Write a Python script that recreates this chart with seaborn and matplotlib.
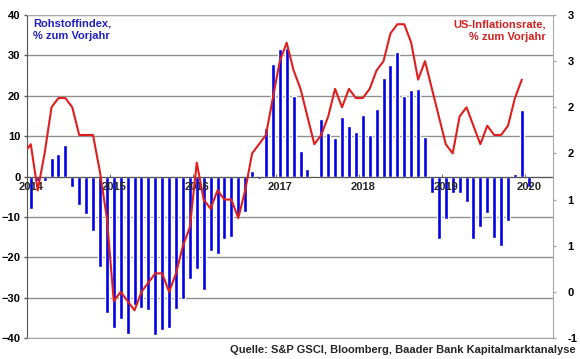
import numpy as np
import pandas as pd
import matplotlib
matplotlib.use('Agg')
from matplotlib import pyplot as plt
from matplotlib.ticker import FuncFormatter
import seaborn as sns

# Rohstoffindex (S&P GSCI), % zum Vorjahr, Jan 2014 - Jan 2020
gsci = [-8.0, -1.0, -1.0, 4.5, 5.6, 7.7, -2.7, -7.0, -9.3, -13.4, -22.3, -33.9,
        -37.4, -35.4, -39.0, -31.8, -32.6, -33.1, -39.2, -37.9, -37.4, -32.8, -30.3, -25.5,
        -23.0, -28.1, -18.4, -19.2, -15.5, -15.1, -9.8, -8.7, 1.4, -0.6, 12.1, 27.8,
        31.6, 31.8, 19.9, 6.2, 1.9, -0.4, 14.3, 10.8, 9.5, 14.8, 12.5, 11.1,
        15.3, 10.2, 16.7, 24.3, 27.5, 30.9, 20.0, 21.5, 21.7, 9.9, -4.1, -15.4,
        -10.6, -4.1, -4.1, -6.2, -15.4, -12.6, -9.1, -15.3, -17.1, -10.9, 0.7, 16.5,
        -2.5]
# US-Inflationsrate, % zum Vorjahr, Dez 2013 - Dez 2019
cpi = [1.5,
       1.6, 1.1, 1.5, 2.0, 2.1, 2.1, 2.0, 1.7, 1.7, 1.7, 1.3, 0.8,
       -0.1, 0.0, -0.1, -0.2, 0.0, 0.1, 0.2, 0.2, 0.0, 0.2, 0.5, 0.7,
       1.4, 1.0, 0.9, 1.1, 1.0, 1.0, 0.8, 1.1, 1.5, 1.6, 1.7, 2.1,
       2.5, 2.7, 2.4, 2.2, 1.9, 1.6, 1.7, 1.9, 2.2, 2.0, 2.2, 2.1,
       2.1, 2.2, 2.4, 2.5, 2.8, 2.9, 2.9, 2.7, 2.3, 2.5, 2.2, 1.9,
       1.6, 1.5, 1.9, 2.0, 1.8, 1.6, 1.8, 1.7, 1.7, 1.8, 2.1, 2.3]
years = ['2014', '2015', '2016', '2017', '2018', '2019', '2020']
left_ticks = [-40, -30, -20, -10, 0, 10, 20, 30, 40]
right_ticks = [-0.5, 0.0, 0.5, 1.0, 1.5, 2.0, 2.5, 3.0]

start = pd.Period('2014-01', 'M')
bar_months = pd.period_range('2014-01', periods=len(gsci), freq='M')
cpi_months = pd.period_range('2013-12', periods=len(cpi), freq='M')
bars = pd.DataFrame({'pos': [(m - start).n for m in bar_months], 'wert': gsci})
line = pd.DataFrame({'pos': [(m - start).n for m in cpi_months], 'wert': cpi})
jan_pos = [(pd.Period(y + '-01', 'M') - start).n for y in years]

sns.set_style('ticks')
plt.rcParams['font.family'] = ['Liberation Sans', 'DejaVu Sans']
plt.rcParams['font.weight'] = 'bold'
plt.rcParams['font.size'] = 8

BLUE = '#0000e6'
RED = '#e01e1e'
GRID = '#8f8f8f'

fig = plt.figure(figsize=(5.8, 3.59), dpi=100)
ax = fig.add_axes([0.0471, 0.0585, 0.9063, 0.8997])

sns.barplot(data=bars, x='pos', y='wert', native_scale=True, color=BLUE,
            saturation=1, width=0.58, ax=ax, zorder=2)
ax.set_xlim(-0.5, 75.5)
ax.set_ylim(-40, 40)
ax.set_yticks(left_ticks)
ax.set_xticks([])
ax.set_xlabel('')
ax.set_ylabel('')
ax.yaxis.grid(True, color=GRID, lw=1)
ax.set_axisbelow(True)
ax.tick_params(axis='y', length=2, width=1, color='#555555', pad=3,
               labelsize=8, labelcolor='black')
ax.spines['left'].set_color('#555555')
for s in ['top', 'bottom']:
    ax.spines[s].set_color('#a8a8a8')
ax.spines['right'].set_visible(False)

# Jahresachse auf der Nulllinie
sec = ax.secondary_xaxis(0.5)
sec.set_alignment('bottom')
sec.set_zorder(3)
sec.set_xticks(jan_pos, labels=years)
sec.set_xticks([p - 0.5 for p in jan_pos], minor=True)
sec.tick_params(axis='x', which='major', length=0, pad=4, labelsize=8)
sec.tick_params(axis='x', which='minor', direction='in', length=2.5, color='#555555')
sec.spines['bottom'].set_color('#555555')
sec.spines['top'].set_visible(False)

ax2 = ax.twinx()
sns.lineplot(data=line, x='pos', y='wert', color=RED, lw=1.5, ax=ax2)
ax2.set_xlim(-0.5, 75.5)
ax2.set_ylim(-0.5, 3.0)
ax2.set_yticks(right_ticks)
ax2.yaxis.set_major_formatter(
    FuncFormatter(lambda v, _: str(int(np.sign(v) * np.floor(abs(v) + 0.5)))))
ax2.set_ylabel('')
ax2.set_xlabel('')
ax2.tick_params(axis='y', length=2.5, width=1, color='#a8a8a8', pad=8,
                labelsize=8, labelcolor='black')
for s in ['top', 'bottom', 'left']:
    ax2.spines[s].set_visible(False)
ax2.spines['right'].set_color('#a8a8a8')

ax.text(0.011, 0.988, 'Rohstoffindex,\n% zum Vorjahr', transform=ax.transAxes,
        ha='left', va='top', color='#2020c0', fontsize=8, fontweight='bold',
        linespacing=1.25)
ax2.text(0.986, 0.985, 'US-Inflationsrate,\n% zum Vorjahr', transform=ax2.transAxes,
         ha='right', va='top', color='#d42020', fontsize=8, fontweight='bold',
         linespacing=1.25, multialignment='right')
fig.text(0.992, 0.018, 'Quelle: S&P GSCI, Bloomberg, Baader Bank Kapitalmarktanalyse',
         ha='right', va='baseline', fontsize=8, fontweight='bold')

fig.savefig('out.png', dpi=100)
